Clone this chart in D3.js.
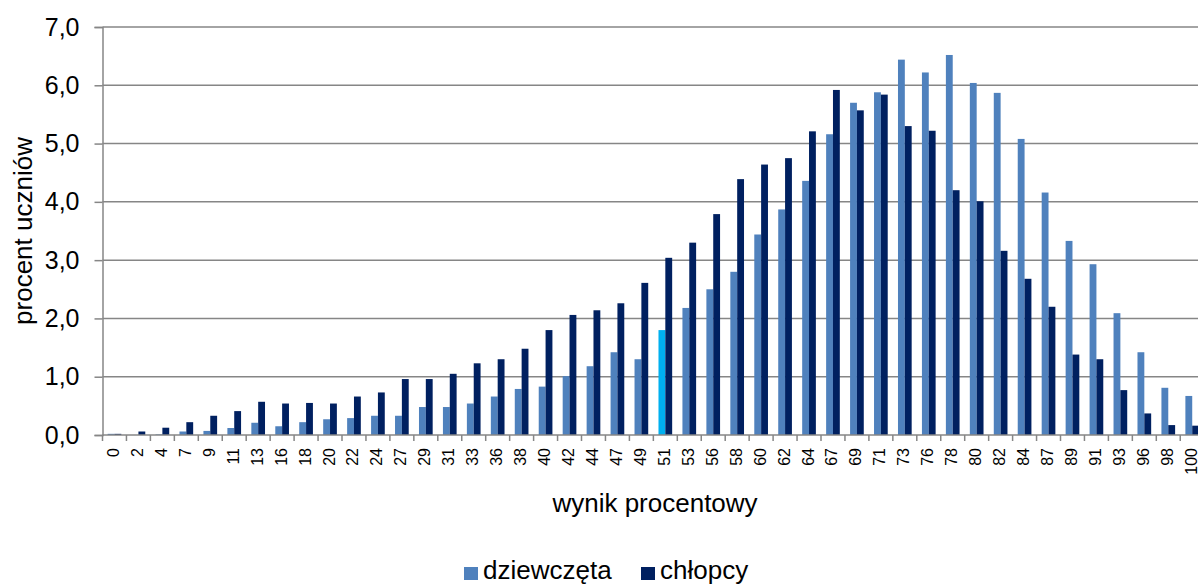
<!DOCTYPE html>
<html>
<head>
<meta charset="utf-8">
<script src="https://cdn.jsdelivr.net/npm/d3@7"></script>
<style>
  body { margin: 0; background: #fff; }
  svg { display: block; font-family: "Liberation Sans", Arial, sans-serif; }
  .axis path, .axis line { stroke: #868686; stroke-width: 1.5; }
</style>
</head>
<body>
<svg id="chart" width="1198" height="585"></svg>
<script>
  // wynik procentowy (categories)
  const categories = ["0","2","4","7","9","11","13","16","18","20","22","24","27","29","31","33",
    "36","38","40","42","44","47","49","51","53","56","58","60","62","64","67","69","71","73",
    "76","78","80","82","84","87","89","91","93","96","98","100"];
  const girls = [0.02,0.0,0.01,0.06,0.07,0.12,0.21,0.15,0.22,0.27,0.29,0.33,0.33,0.48,0.48,0.54,
    0.66,0.79,0.83,1.01,1.18,1.42,1.30,1.80,2.18,2.50,2.80,3.44,3.87,4.36,5.16,5.70,5.88,6.44,
    6.22,6.52,6.04,5.87,5.08,4.16,3.33,2.93,2.09,1.42,0.81,0.67];
  const boys = [0.02,0.06,0.125,0.22,0.33,0.41,0.57,0.54,0.55,0.54,0.66,0.73,0.96,0.96,1.05,1.23,
    1.30,1.48,1.80,2.06,2.14,2.26,2.61,3.04,3.30,3.79,4.39,4.64,4.75,5.21,5.92,5.57,5.84,5.30,
    5.22,4.20,4.01,3.16,2.68,2.20,1.38,1.30,0.77,0.37,0.17,0.16];
  const seriesNames = ["dziewczęta", "chłopcy"];
  const yTicks = [0, 1, 2, 3, 4, 5, 6, 7];
  const highlight = "51";

  const colors = { girls: "#4f81bd", boys: "#002060", hl: "#00b0f0" };

  const svg = d3.select("#chart");
  const m = { left: 102.5, top: 27, bottom: 435 };
  const bandW = 23.95;
  const plotRight = m.left + bandW * categories.length;

  const x = d3.scaleBand().domain(categories).range([m.left, plotRight]).padding(0);
  const y = d3.scaleLinear().domain([0, 7]).range([m.bottom, m.top]);
  const barW = bandW / 3.5;

  // grid
  svg.append("g").selectAll("line")
    .data(yTicks.slice(1))
    .enter().append("line")
    .attr("x1", m.left).attr("x2", 1198)
    .attr("y1", d => y(d)).attr("y2", d => y(d))
    .attr("stroke", "#868686").attr("stroke-width", 1.5);

  // bars
  const groups = svg.append("g").selectAll("g")
    .data(categories)
    .enter().append("g")
    .attr("transform", d => `translate(${x(d) + bandW / 2}, 0)`);

  groups.append("rect")
    .attr("x", -barW).attr("width", barW)
    .attr("y", (d, i) => y(girls[i]))
    .attr("height", (d, i) => m.bottom - y(girls[i]))
    .attr("fill", d => d === highlight ? colors.hl : colors.girls);

  groups.append("rect")
    .attr("x", 0).attr("width", barW)
    .attr("y", (d, i) => y(boys[i]))
    .attr("height", (d, i) => m.bottom - y(boys[i]))
    .attr("fill", colors.boys);

  // y axis
  const yAxis = d3.axisLeft(y).tickValues(yTicks).tickSizeOuter(0).tickSize(8)
    .tickFormat(d => d3.format(".1f")(d).replace(".", ","));
  const gy = svg.append("g").attr("class", "axis").attr("transform", `translate(${m.left},0)`).call(yAxis);
  gy.selectAll("text").attr("font-size", 25).attr("fill", "#000").attr("x", -23)
    .attr("font-family", "Liberation Sans, Arial, sans-serif");

  // x axis
  svg.append("line").attr("x1", m.left).attr("x2", 1198).attr("y1", m.bottom).attr("y2", m.bottom)
    .attr("stroke", "#868686").attr("stroke-width", 1.5);
  svg.append("g").selectAll("line")
    .data(categories)
    .enter().append("line")
    .attr("x1", d => x(d)).attr("x2", d => x(d))
    .attr("y1", m.bottom).attr("y2", m.bottom + 6)
    .attr("stroke", "#868686").attr("stroke-width", 1.5);

  svg.append("g").selectAll("text")
    .data(categories)
    .enter().append("text")
    .attr("transform", d => `translate(${x(d) + bandW / 2 + 4.5}, 448) rotate(-90)`)
    .attr("text-anchor", "end")
    .attr("font-size", 16)
    .text(d => d);

  // axis titles
  svg.append("text")
    .attr("transform", "translate(32, 231) rotate(-90)")
    .attr("text-anchor", "middle")
    .attr("font-size", 26)
    .text("procent uczniów");

  svg.append("text")
    .attr("x", 655).attr("y", 512)
    .attr("text-anchor", "middle")
    .attr("font-size", 26)
    .text("wynik procentowy");

  // legend
  const legend = svg.append("g");
  const legendItems = [
    { name: seriesNames[0], color: colors.girls, x: 464 },
    { name: seriesNames[1], color: colors.boys, x: 641 }
  ];
  legendItems.forEach(it => {
    legend.append("rect").attr("x", it.x).attr("y", 567).attr("width", 14).attr("height", 13)
      .attr("fill", it.color);
    legend.append("text").attr("x", it.x + 19).attr("y", 579).attr("font-size", 26).text(it.name);
  });
</script>
</body>
</html>
